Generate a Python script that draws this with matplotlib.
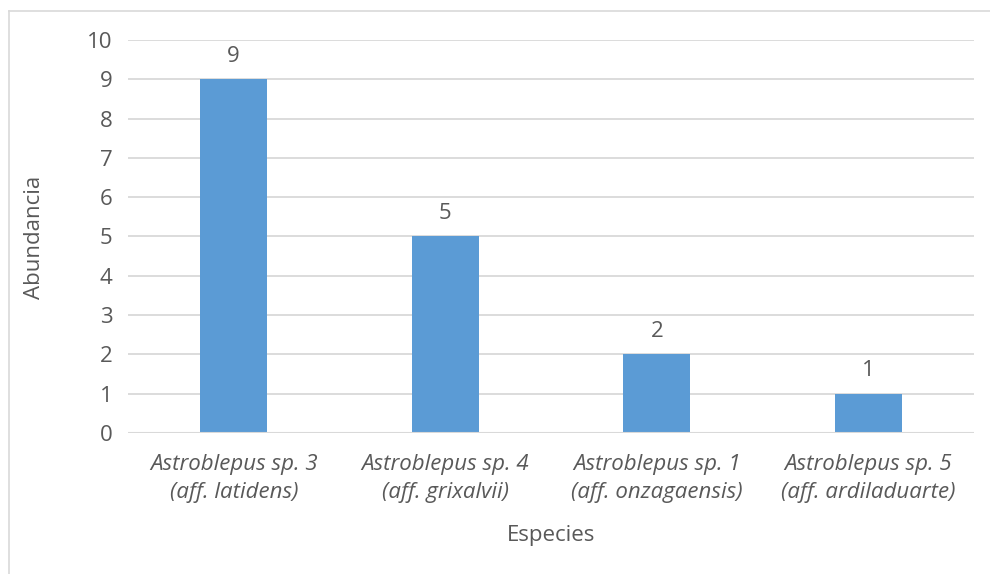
import matplotlib
matplotlib.use("Agg")
import matplotlib.pyplot as plt
from matplotlib.lines import Line2D

plt.rcParams['font.family'] = ['Open Sans', 'DejaVu Sans']

categories = ["Astroblepus sp. 3\n(aff. latidens)",
              "Astroblepus sp. 4\n(aff. grixalvii)",
              "Astroblepus sp. 1\n(aff. onzagaensis)",
              "Astroblepus sp. 5\n(aff. ardiladuarte)"]
values = [9, 5, 2, 1]
yticks = list(range(0, 11))

text_color = "#595959"
bar_color = "#5B9BD5"
grid_color = "#D9D9D9"
fs = 16

fig = plt.figure(figsize=(9.9, 5.74), dpi=100)
ax = fig.add_axes([128/990, 1-433/574, (974-128)/990, (433-40)/574])

x = list(range(len(categories)))
bars = ax.bar(x, values, width=0.315, color=bar_color, zorder=3)
ax.set_xlim(-0.5, len(categories)-0.5)
ax.set_ylim(0, 10)
ax.set_yticks(yticks)
ax.set_yticklabels([str(t) for t in yticks], fontsize=fs, color=text_color)
ax.set_xticks(x)
ax.set_xticklabels(categories, fontsize=fs, color=text_color, style='italic', linespacing=1.45)
ax.tick_params(axis='both', length=0)
ax.tick_params(axis='y', pad=11)
ax.tick_params(axis='x', pad=15)
ax.yaxis.grid(True, color=grid_color, linewidth=1.3, zorder=0)
for s in ax.spines.values():
    s.set_visible(False)
ax.axhline(0, color=grid_color, linewidth=1.5, zorder=4)

for xi, v in zip(x, values):
    ax.annotate(str(v), (xi, v), xytext=(0, 9), textcoords='offset points',
                ha='center', va='bottom', fontsize=fs, color=text_color)

fig.text(551/990, 1-535/574, "Especies", ha='center', va='center', fontsize=fs, color=text_color)
fig.text(35/990, 1-237/574, "Abundancia", ha='center', va='center', rotation=90, fontsize=fs, color=text_color)

# outer chart border (partially visible)
fig.add_artist(Line2D([8.5/990, 8.5/990], [0, 1-10.5/574], transform=fig.transFigure, color="#D9D9D9", linewidth=1.2))
fig.add_artist(Line2D([8.5/990, 1], [1-10.5/574, 1-10.5/574], transform=fig.transFigure, color="#D9D9D9", linewidth=1.2))

fig.savefig("out.png", dpi=100)
